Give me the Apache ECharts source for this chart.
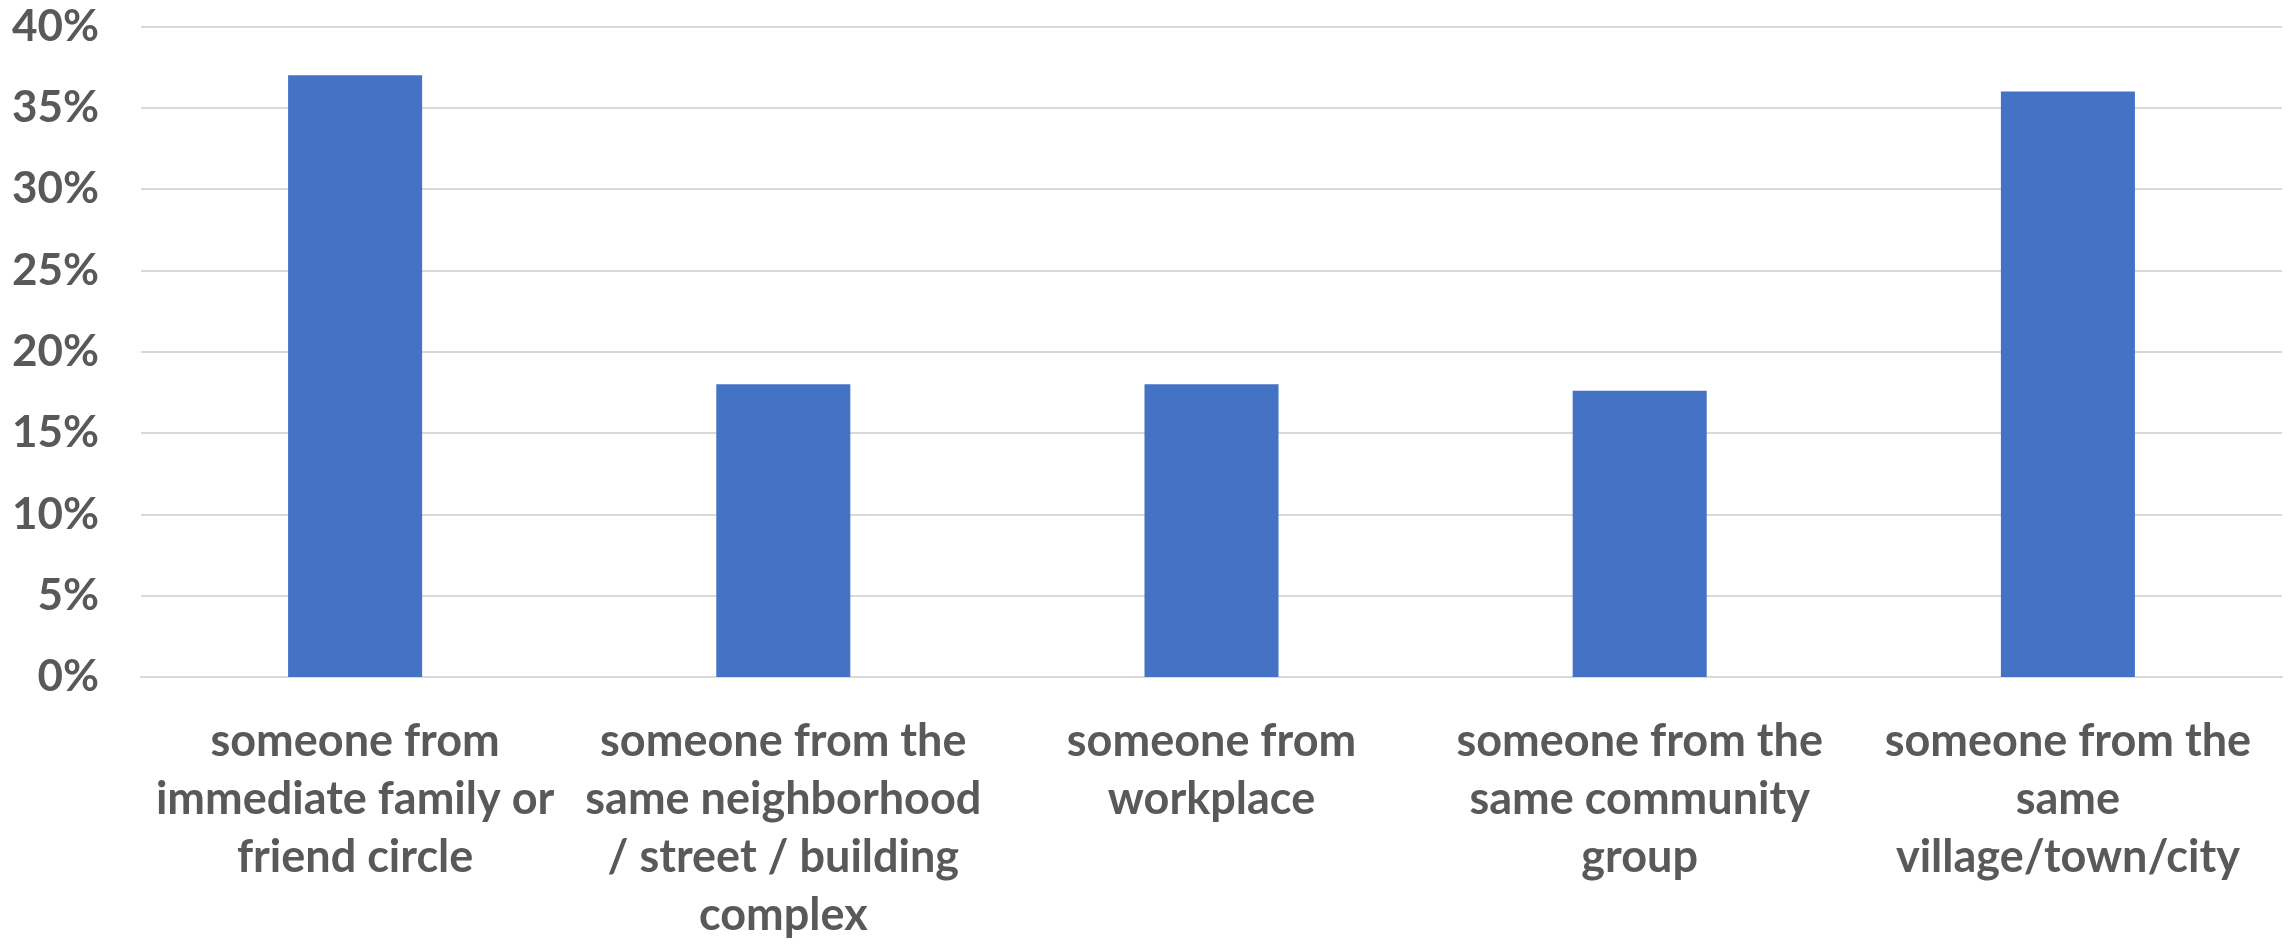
<!DOCTYPE html>
<html>
<head>
<meta charset="utf-8">
<style>
  html, body { margin: 0; padding: 0; background: #ffffff; }
  #chart { width: 2292px; height: 944px; }
</style>
<script src="https://cdn.jsdelivr.net/npm/echarts@6/dist/echarts.min.js"></script>
</head>
<body>
<div id="chart"></div>
<script>
const categories = [
  "someone from\nimmediate family or\nfriend circle",
  "someone from the\nsame neighborhood\n/ street / building\ncomplex",
  "someone from\nworkplace",
  "someone from the\nsame community\ngroup",
  "someone from the\nsame\nvillage/town/city"
];
const values = [37, 18, 18, 17.6, 36];
const yTicks = { min: 0, max: 40, interval: 5 };

const chart = echarts.init(document.getElementById('chart'), null, { renderer: 'canvas' });
const textColor = '#595959';
const fontFamily = 'Lato, "Noto Sans", sans-serif';

chart.setOption({
  animation: false,
  backgroundColor: '#ffffff',
  grid: { left: 141, right: 10, top: 26.5, bottom: 266.3, containLabel: false },
  xAxis: {
    type: 'category',
    data: categories,
    axisLine: { show: true, lineStyle: { color: '#D9D9D9', width: 2 } },
    axisTick: { show: false },
    axisLabel: {
      interval: 0,
      margin: 35,
      color: textColor,
      fontFamily: fontFamily,
      fontWeight: 'bold',
      fontSize: 45,
      lineHeight: 58,
      align: 'center'
    }
  },
  yAxis: {
    type: 'value',
    min: yTicks.min,
    max: yTicks.max,
    interval: yTicks.interval,
    axisLine: { show: false },
    axisTick: { show: false },
    splitLine: { show: true, lineStyle: { color: '#D9D9D9', width: 2 } },
    axisLabel: {
      margin: 42,
      color: textColor,
      fontFamily: fontFamily,
      fontWeight: 'bold',
      fontSize: 44,
      formatter: v => v + '%'
    }
  },
  series: [{
    type: 'bar',
    data: values,
    barWidth: '31.3%',
    itemStyle: { color: '#4472C4' }
  }]
});
</script>
</body>
</html>
